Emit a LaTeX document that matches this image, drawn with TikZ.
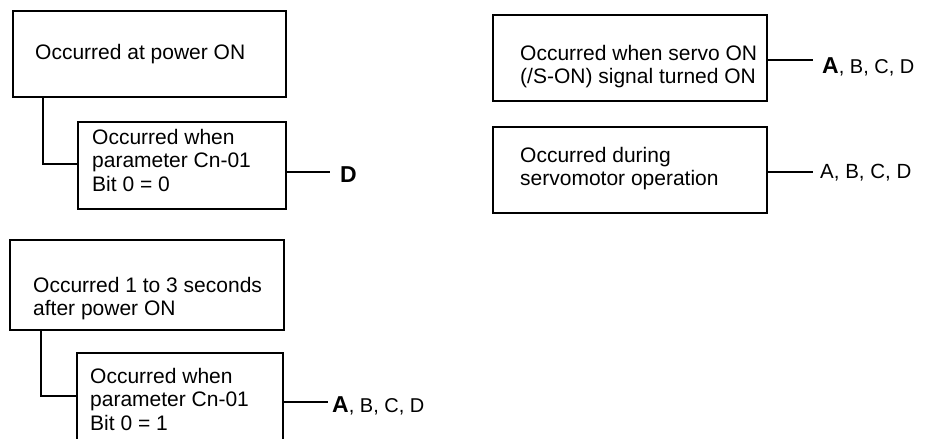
\documentclass[tikz,border=0pt]{standalone}
\usepackage{fontspec}
\setmainfont{Liberation Sans}
\begin{document}
\begin{tikzpicture}[x=1pt,y=-1pt,
  box/.style={draw, line width=1.6pt, inner sep=0pt},
  txt/.style={anchor=base west, align=left, inner sep=0pt, font=\fontsize{21}{23.5}\selectfont},
  lbl/.style={anchor=base west, inner sep=0pt, font=\fontsize{20}{23}\selectfont},
  wire/.style={line width=1.6pt}]
\useasboundingbox (0,0) rectangle (927,439);
% boxes
\node[box, minimum width=273pt, minimum height=86pt] (b1) at (149.5,54) {};
\node[box, minimum width=208pt, minimum height=87pt] (b2) at (182,165.5) {};
\node[box, minimum width=274pt, minimum height=90pt] (b3) at (147,285) {};
\node[box, minimum width=206pt, minimum height=93pt] (b4) at (180,399.5) {};
\node[box, minimum width=274pt, minimum height=86pt] (b5) at (630,58) {};
\node[box, minimum width=274pt, minimum height=86pt] (b6) at (630,170) {};
% texts (base anchor = last line baseline)
\node[txt] (t1) at (35,59) {Occurred at power ON};
\node[txt] (t2) at (92,191) {Occurred when\\parameter Cn-01\\Bit 0 = 0};
\node[txt] (t3) at (33,315.5) {Occurred 1 to 3 seconds\\after power ON};
\node[txt] (t4) at (90,430) {Occurred when\\parameter Cn-01\\Bit 0 = 1};
\node[txt] (t5) at (520,83.5) {Occurred when servo ON\\(/S-ON) signal turned ON};
\node[txt] (t6) at (520,185.5) {Occurred during\\servomotor operation};
% labels
\node[lbl] (lD) at (340,182) {\fontsize{23}{26}\selectfont\bfseries D};
\node[lbl] (l4) at (332,412) {{\fontsize{23}{26}\selectfont\bfseries A}, B, C, D};
\node[lbl] (l5) at (822,73) {{\fontsize{23}{26}\selectfont\bfseries A}, B, C, D};
\node[lbl] (l6) at (820,178) {\fontsize{20.5}{23}\selectfont A, B, C, D};
% connectors
\coordinate (j1) at (43,164);
\coordinate (j2) at (41,396);
\draw[wire] (b1.south -| j1) -- (j1) -- (j1 -| b2.west);
\draw[wire] (b3.south -| j2) -- (j2) -- (j2 -| b4.west);
\coordinate (e2) at (330,172);
\coordinate (e4) at (328,402);
\coordinate (e5) at (813,60);
\coordinate (e6) at (813,172);
\draw[wire] (e2 -| b2.east) -- (e2);
\draw[wire] (e4 -| b4.east) -- (e4);
\draw[wire] (e5 -| b5.east) -- (e5);
\draw[wire] (e6 -| b6.east) -- (e6);
\end{tikzpicture}
\end{document}
